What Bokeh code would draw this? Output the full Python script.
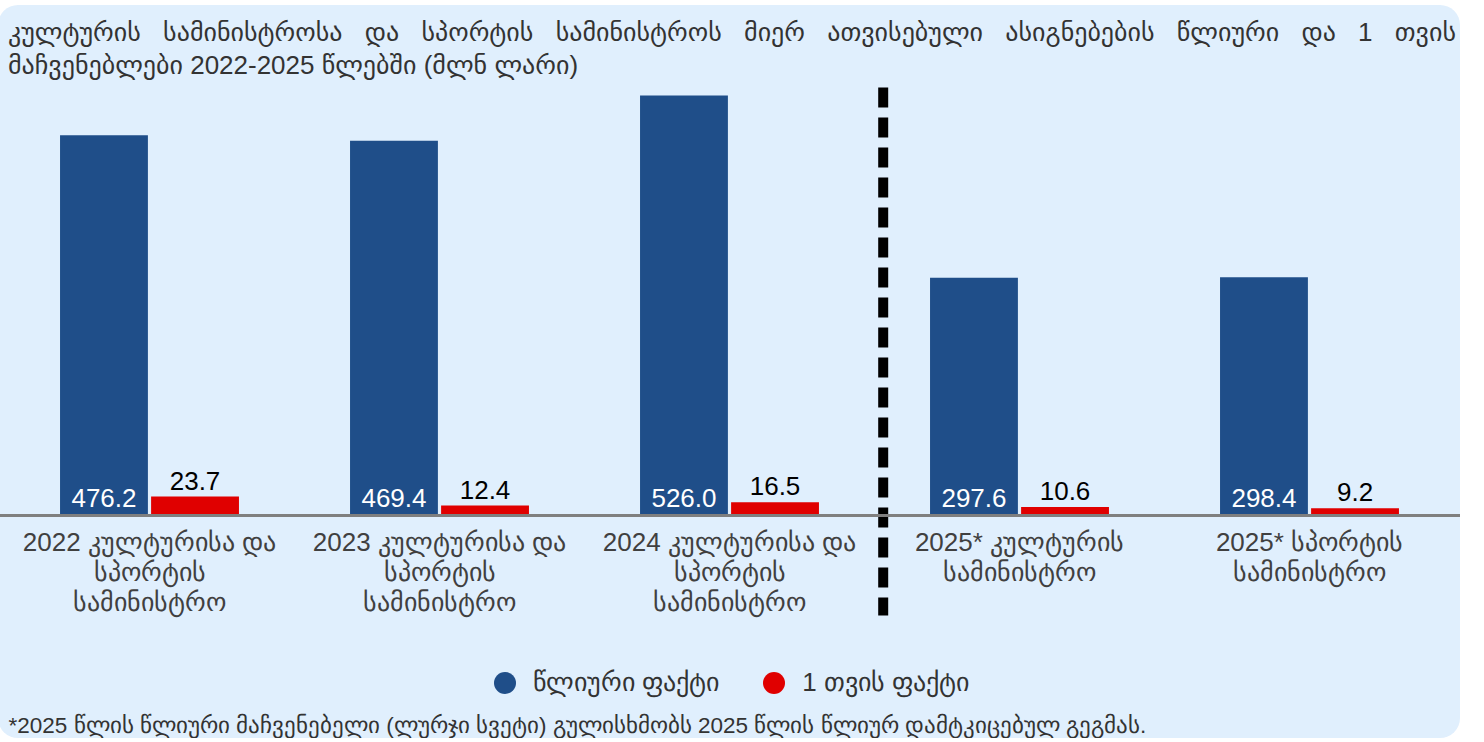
from bokeh.plotting import figure
from bokeh.models import (ColumnDataSource, FactorRange, Range1d, LabelSet, Legend,
                          LegendItem, Label, Span, Div)
from bokeh.layouts import column
from bokeh.transform import dodge
from bokeh.core.properties import value
from bokeh.embed import file_html
from bokeh.resources import INLINE

# ---------------- data ----------------
categories = [
    "2022 კულტურისა და\nსპორტის\nსამინისტრო",
    "2023 კულტურისა და\nსპორტის\nსამინისტრო",
    "2024 კულტურისა და\nსპორტის\nსამინისტრო",
    "2025* კულტურის\nსამინისტრო",
    "2025* სპორტის\nსამინისტრო",
]
annual = [476.2, 469.4, 526.0, 297.6, 298.4]
month1 = [23.7, 12.4, 16.5, 10.6, 9.2]
series_names = ["წლიური ფაქტი", "1 თვის ფაქტი"]
title_line1 = "კულტურის სამინისტროსა და სპორტის სამინისტროს მიერ ათვისებული ასიგნებების წლიური და 1 თვის"
title_line2 = "მაჩვენებლები 2022-2025 წლებში (მლნ ლარი)"
footnote = "*2025 წლის წლიური მაჩვენებელი (ლურჯი სვეტი) გულისხმობს 2025 წლის წლიურ დამტკიცებულ გეგმას."

# ---------------- styles / layout constants ----------------
BG = "#E0EFFD"
BLUE = "#1F4E89"
RED = "#E00000"
FONT = "Liberation Sans"
W = 1462            # container width (px)
TITLE_H = 75        # title block height (px)
FIG_H = 658         # chart height (px)
AXIS_PX = 435       # baseline distance from chart top (px)
PX_PER_UNIT = 0.7985
Y_END = AXIS_PX / PX_PER_UNIT
Y_START = -(FIG_H - AXIS_PX) / PX_PER_UNIT


def px_from_axis(px):
    return px / PX_PER_UNIT


lines = [c.split("\n") for c in categories]
src = ColumnDataSource(dict(
    cat=categories,
    annual=annual,
    month=month1,
    zero=[0] * len(categories),
    annual_lbl=["{:.1f}".format(v) for v in annual],
    month_lbl=["{:.1f}".format(v) for v in month1],
    l1=[l[0] if len(l) > 0 else "" for l in lines],
    l2=[l[1] if len(l) > 1 else "" for l in lines],
    l3=[l[2] if len(l) > 2 else "" for l in lines],
))

xr = FactorRange(*categories, range_padding=0.0207, range_padding_units="absolute")
p = figure(x_range=xr, y_range=Range1d(Y_START, Y_END),
           width=W, height=FIG_H,
           min_border_left=0, min_border_right=0, min_border_top=0, min_border_bottom=0,
           x_axis_location=None, y_axis_location=None,
           toolbar_location=None, output_backend="svg",
           background_fill_alpha=0, border_fill_alpha=0, outline_line_color=None)
p.xgrid.visible = False
p.ygrid.visible = False

off = 0.157
bw = 0.303
p.vbar(x=dodge("cat", -off, range=p.x_range), top="annual", width=bw, source=src,
       fill_color=BLUE, line_color=None)
p.vbar(x=dodge("cat", off, range=p.x_range), top="month", width=bw, source=src,
       fill_color=RED, line_color=None)

# baseline (category axis line)
p.add_layout(Span(location=0, dimension="width", line_color="#7F7F7F", line_width=3))

# value labels
p.add_layout(LabelSet(x=dodge("cat", -off, range=p.x_range), y="zero", text="annual_lbl",
                      source=src, text_align="center", text_baseline="alphabetic",
                      y_offset=9, text_color="white", text_font_size="26px",
                      text_font=value(FONT)))
p.add_layout(LabelSet(x=dodge("cat", off, range=p.x_range), y="month", text="month_lbl",
                      source=src, text_align="center", text_baseline="alphabetic",
                      y_offset=7, text_color="black", text_font_size="26px",
                      text_font=value(FONT)))

# category labels (one centred line each)
for i, col in enumerate(["l1", "l2", "l3"]):
    p.add_layout(LabelSet(x="cat", y="zero", text=col, source=src,
                          text_align="center", text_baseline="middle", y_offset=-26 - 30 * i,
                          text_color="#404040", text_font_size="26px",
                          text_font=value(FONT)))

# divider between actuals and plan
p.segment(x0=[3.03], y0=[px_from_axis(428)], x1=[3.03], y1=[px_from_axis(-100)],
          line_width=10, line_dash="20 10", line_color="black", line_cap="butt")

# legend (circle markers with no visible points on the plot)
nan = float("nan")
lb = p.scatter(x=[nan], y=[nan], marker="circle", fill_color=BLUE, line_color=None)
lr = p.scatter(x=[nan], y=[nan], marker="circle", fill_color=RED, line_color=None)
legend = Legend(items=[LegendItem(label=series_names[0], renderers=[lb]),
                       LegendItem(label=series_names[1], renderers=[lr])],
                orientation="horizontal", location=(479, 28),
                glyph_width=55, glyph_height=55, label_standoff=1, spacing=27,
                label_text_font_size="26px", label_text_font=FONT, label_text_color="#333333",
                background_fill_alpha=0, border_line_color=None, margin=0, padding=0)
p.add_layout(legend)

# footnote
p.add_layout(Label(x=0, y=px_from_axis(-210), x_offset=4, text=footnote,
                   text_baseline="middle", text_align="left", text_font_size="22.5px",
                   text_color="#333333", text_font=FONT))

title_html = (
    f'<div style="font-family:\'{FONT}\',\'DejaVu Sans\',sans-serif;font-size:26px;color:#333;'
    f'line-height:33px;padding:11px 4px 0 10px;width:{W}px;height:{TITLE_H}px;'
    f'box-sizing:border-box">'
    f'<div style="text-align:justify;text-align-last:justify;white-space:nowrap">{title_line1}</div>'
    f'<div style="white-space:nowrap">{title_line2}</div></div>'
)
title_div = Div(text=title_html, width=W, height=TITLE_H, margin=0)

layout = column(title_div, p, spacing=0,
                styles={"position": "absolute", "left": "-2px", "top": "5px",
                        "background-color": BG, "border-radius": "20px"})

open("out.html", "w").write(file_html(layout, INLINE))
